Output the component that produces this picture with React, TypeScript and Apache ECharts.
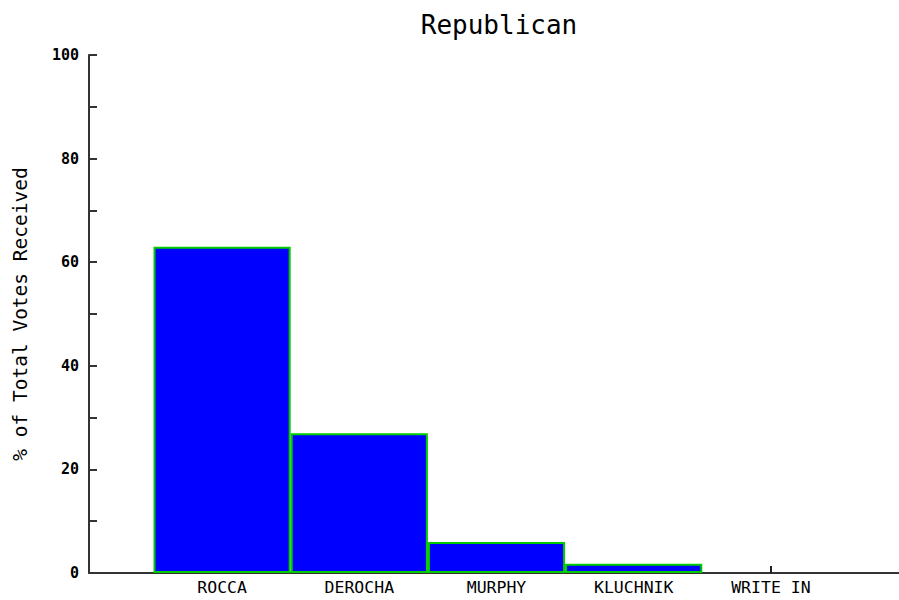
import React, { useEffect, useRef } from "react";
import * as echarts from "echarts";

const title = "Republican";
const yAxisName = "% of Total Votes Received";
const categories = ["ROCCA", "DEROCHA", "MURPHY", "KLUCHNIK", "WRITE IN"];
const votes = [63, 27, 6, 1.8, 0];
const yMin = 0;
const yMax = 100;
const yTickStep = 10;

export default function App() {
  const ref = useRef<HTMLDivElement>(null);
  useEffect(() => {
    if (!ref.current) return;
    const chart = echarts.init(ref.current, null, { renderer: "svg" });
    const font = "'DejaVu Sans Mono', 'Liberation Mono', monospace";
    chart.setOption({
      animation: false,
      backgroundColor: "#ffffff",
      title: {
        text: title,
        left: 494,
        textAlign: "center",
        top: 7,
        textStyle: { fontFamily: font, fontWeight: "normal", fontSize: 26, color: "#000" },
      },
      grid: [
        { left: 89, right: 0, top: 55, bottom: 27, containLabel: false, outerBoundsMode: "none" },
        { left: 153.5, width: 686, top: 55, bottom: 27, containLabel: false, outerBoundsMode: "none" },
      ],
      xAxis: [
        {
          gridIndex: 0,
          type: "value",
          min: 0,
          max: 1,
          axisLine: { show: true, lineStyle: { color: "#333", width: 2 } },
          axisTick: { show: false },
          axisLabel: { show: false },
          splitLine: { show: false },
        },
        {
          gridIndex: 1,
          type: "category",
          data: categories,
          axisLine: { show: false },
          axisTick: { show: true, inside: true, alignWithLabel: true, length: 7, lineStyle: { color: "#222", width: 2 } },
          axisLabel: { margin: 6, fontFamily: font, fontSize: 16.5, color: "#000" },
          splitLine: { show: false },
        },
      ],
      yAxis: [
        {
          gridIndex: 0,
          type: "value",
          min: yMin,
          max: yMax,
          interval: yTickStep,
          name: yAxisName,
          nameLocation: "middle",
          nameGap: 59,
          nameTextStyle: { fontFamily: font, fontSize: 19.5, color: "#000" },
          axisLine: { show: true, lineStyle: { color: "#333", width: 2 } },
          axisTick: { show: true, inside: true, length: 8, lineStyle: { color: "#333", width: 2 } },
          axisLabel: {
            margin: 10,
            fontFamily: font,
            fontWeight: "bold",
            fontSize: 15,
            color: "#000",
            formatter: (v: number) => (v % 20 === 0 ? String(v) : ""),
          },
          splitLine: { show: false },
        },
        {
          gridIndex: 1,
          type: "value",
          min: yMin,
          max: yMax,
          show: false,
          splitLine: { show: false },
        },
      ],
      series: [
        {
          type: "bar",
          xAxisIndex: 1,
          yAxisIndex: 1,
          data: votes.map((v) => (v === 0 ? { value: v, itemStyle: { borderWidth: 0 } } : v)),
          barWidth: "100%",
          barCategoryGap: "0%",
          itemStyle: { color: "#0000ff", borderColor: "#00cc00", borderWidth: 2 },
        },
      ],
    });
    return () => chart.dispose();
  }, []);
  return <div ref={ref} style={{ width: 899, height: 600, position: "absolute", left: 0, top: 0 }} />;
}
